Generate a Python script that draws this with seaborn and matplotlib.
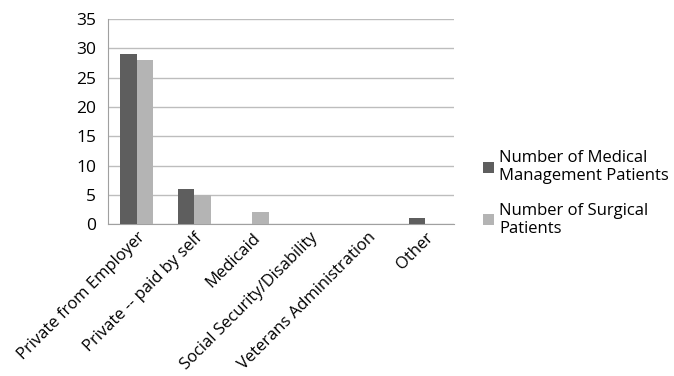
import pandas as pd
import matplotlib.pyplot as plt
import seaborn as sns

categories = ['Private from Employer', 'Private -- paid by self', 'Medicaid',
              'Social Security/Disability', 'Veterans Administration', 'Other']
medical = [29, 6, 0, 0, 0, 1]
surgical = [28, 5, 2, 0, 0, 0]
series_names = ['Number of Medical\nManagement Patients', 'Number of Surgical\nPatients']

df = pd.DataFrame({
    'category': categories * 2,
    'value': medical + surgical,
    'series': [series_names[0]] * 6 + [series_names[1]] * 6,
})

sns.set_style('white')
plt.rcParams['font.family'] = ['Open Sans', 'DejaVu Sans']
plt.rcParams['text.color'] = 'black'

fig = plt.figure(figsize=(6.74, 3.76), dpi=100)
ax = fig.add_axes([0.160, 0.404, 0.514, 0.545])

sns.barplot(data=df, x='category', y='value', hue='series',
            palette=['#5e5e5e', '#b4b4b4'], width=0.57, saturation=1,
            linewidth=0, ax=ax, zorder=3)

ax.set_ylim(0, 35)
ax.set_yticks(range(0, 36, 5))
ax.set_xlim(-0.5, 5.5)
ax.yaxis.grid(True, color='#bdbdbd', linewidth=1, zorder=0)
ax.set_xlabel('')
ax.set_ylabel('')

for s in ['top', 'right']:
    ax.spines[s].set_visible(False)
for s in ['left', 'bottom']:
    ax.spines[s].set_color('#a0a0a0')

# ticks between categories like the spreadsheet original
ax.set_xticks([i - 0.5 for i in range(7)], minor=True)
ax.tick_params(axis='x', which='minor', length=5, color='#a0a0a0', direction='out')
ax.tick_params(axis='x', which='major', length=0, labelsize=12, pad=4, labelcolor='black')
ax.tick_params(axis='y', length=5, color='#a0a0a0', labelsize=12.5, labelcolor='black')
plt.setp(ax.get_xticklabels(), rotation=45, ha='right', rotation_mode='anchor')

leg = ax.legend(loc='center left', bbox_to_anchor=(1.04, 0.15), frameon=False,
                fontsize=12, handlelength=0.65, handleheight=0.65, handletextpad=0.3,
                labelspacing=1.1)
for t in leg.get_texts():
    t.set_color('black')

fig.savefig('out.png', dpi=100)
